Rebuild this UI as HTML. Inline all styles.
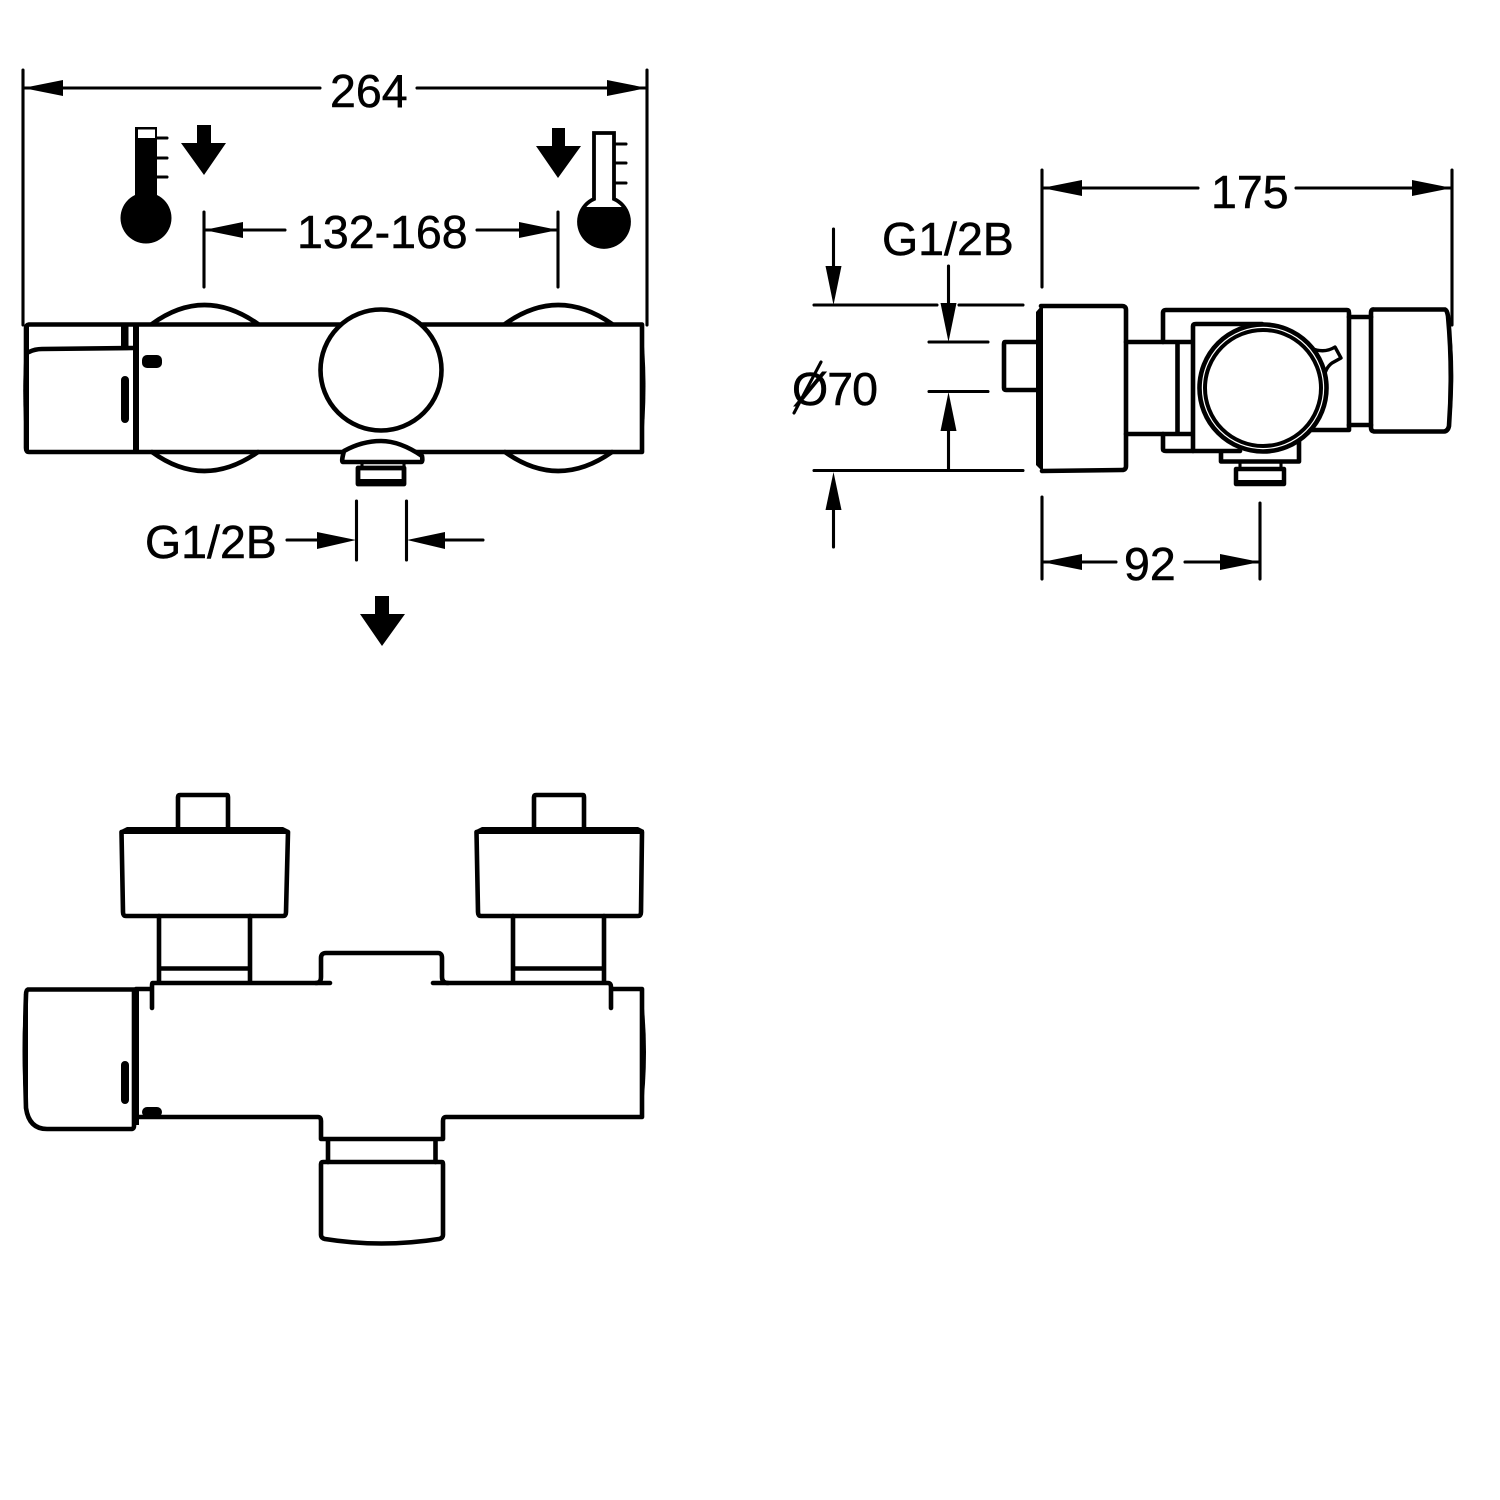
<!DOCTYPE html>
<html><head><meta charset="utf-8"><style>html,body{margin:0;padding:0;background:#fff}svg{display:block}</style></head>
<body>
<svg width="1500" height="1500" viewBox="0 0 1500 1500" xmlns="http://www.w3.org/2000/svg">
<rect width="1500" height="1500" fill="#fff"/>
<style>
text{font-family:"Liberation Sans",sans-serif;font-size:46.5px;fill:#000;stroke:#000;stroke-width:.5px}
.d{stroke:#000;stroke-width:3.1;fill:none;stroke-linecap:round}
.o{stroke:#000;stroke-width:4.6;fill:none;stroke-linejoin:round;stroke-linecap:round}
.w{stroke:#000;stroke-width:4.6;fill:#fff;stroke-linejoin:round;stroke-linecap:round}
</style>

<!-- top-left dims -->
<path class="d" d="M23 70V325M647 70V325M23 88H320M417 88H647M204 212V287M558 212V287M204 230H285M477 230H558"/>
<polygon points="23,88 63,80 63,96"/><polygon points="647,88 607,80 607,96"/>
<polygon points="204,230 243,222 243,238"/><polygon points="558,230 519,222 519,238"/>
<text x="330" y="107">264</text>
<text x="297" y="248">132-168</text>

<!-- thermometer left -->
<path d="M135 127H157V195A25.500 25.500 0 1 1 135 195V127Z" fill="#000"/>
<rect x="138" y="129.500" width="17" height="8.500" fill="#fff"/>
<path class="d" d="M157 138H167M157 158H167M157 177H167"/>
<polygon points="197,125 211,125 211,143 226,143 204,175 181,143 197,143"/>

<!-- thermometer right -->
<path d="M594 133H614V199A25 25 0 1 1 594 199Z" fill="#fff" stroke="#000" stroke-width="3.800"/>
<path d="M584 207H624A25.500 25.500 0 1 1 584 207Z" fill="#000"/>
<path class="d" d="M614 144H626M614 163H626M614 183H626"/>
<polygon points="552,128 565,128 565,146 581,146 558,178 536,146 552,146"/>

<!-- top-left body -->
<path class="o" d="M152 324Q204 286 258 324M505 324Q558 286 612 324M152 452Q204 490 258 452M505 452Q558 490 612 452"/>
<path class="o" d="M29 324.500H642V452H29Q26 452 26 448V328Q26 325 29 324.500Z"/>
<path d="M27 326Q20 385 26 450L29 450V326Z" fill="#000"/>
<path d="M642 325Q649 385 642 450L640 450V325Z" fill="#000"/>
<path class="o" d="M29 352Q35 349 42 349L133 348"/>
<path d="M133 324H139V452H133Z" fill="#000"/>
<rect x="121" y="325" width="7.500" height="24" fill="#000"/>
<rect x="121" y="376" width="8" height="47" rx="4" fill="#000"/>
<rect x="142" y="355" width="20" height="13" rx="5" fill="#000"/>
<circle cx="381" cy="370" r="60.500" class="w"/>
<path class="w" d="M343 462H421Q423 462 422 456Q400 441 381 441Q362 441 344 451Q341 462 343 462Z"/>
<path class="d" d="M362 463V470M404 463V470"/>
<path d="M358 468H404V484H358Z" fill="#fff" stroke="#000" stroke-width="4.800" stroke-linejoin="round"/>
<rect x="357" y="479" width="48" height="6.500" fill="#000"/>

<!-- G1/2B lower dim -->
<text x="145" y="558">G1/2B</text>
<path class="d" d="M287 540H320M445 540H483M356.500 501V560M406.500 501V560"/>
<polygon points="356,540 317,532 317,549"/><polygon points="407,540 445,532 445,549"/>
<polygon points="375,596 389,596 389,614 405,614 382,646 360,614 375,614"/>

<!-- right view dims -->
<path class="d" d="M1042 170V287M1452 170V325M1042 188H1198M1296 188H1452"/>
<polygon points="1042,188 1082,180 1082,196"/><polygon points="1452,188 1412,180 1412,196"/>
<text x="1211" y="208">175</text>
<text x="882" y="255">G1/2B</text>
<path class="d" d="M814 305H937M959 305H1023M929 342H988M929 391.500H988M814 470.500H1023M833.500 229V270M833.500 510V547M948.500 266V305M948.500 428V469"/>
<polygon points="833.500,305 825.500,266 841.500,266"/><polygon points="833.500,472 825.500,510 841.500,510"/>
<polygon points="948.500,342 940.500,303 956.500,303"/><polygon points="948.500,392 940.500,431 956.500,431"/>
<text x="792" y="405" textLength="86">Ø70</text>
<path class="d" d="M794 413L821 362"/>
<path class="d" d="M1042 497V579M1260 503V579M1042 562H1116M1185 562H1260"/>
<polygon points="1042,562 1082,554 1082,570"/><polygon points="1260,562 1220,554 1220,570"/>
<text x="1124" y="580">92</text>

<!-- right view drawing -->
<path class="o" d="M1038 342H1005Q1004 342 1004 344V388Q1004 390 1006 390H1038" stroke-width="5"/>
<path class="o" d="M1126 342H1192M1126 434H1192M1177.500 344V432"/>
<path class="o" d="M1163 342V313Q1163 310 1166 310H1347Q1349 310 1349 313V430H1312M1163 434V449Q1163 451 1166 451H1240"/>
<path class="o" d="M1193 451V326Q1193 324 1196 324H1262"/>
<path class="o" d="M1349 317H1371M1349 425H1371"/>
<path class="o" d="M1041 306L1122 306Q1126 306 1126 310V466Q1126 470 1122 470L1042 471"/>
<path d="M1036 312L1043 304V472L1036 465Z" fill="#000"/>
<path class="o" d="M1374 309.500H1445Q1447 310 1448 316Q1453 370 1449 426Q1448 431 1444 431.500H1374Q1371 431 1371 428V313Q1371 309 1374 309.500Z"/>
<path class="d" d="M1448 320Q1455 370 1449 425" stroke-width="4"/>
<path class="o" d="M1221 453V461.500H1299V441"/>
<path d="M1311 348Q1324 354 1335 347L1341 358L1332 363Q1325 368 1324 379" fill="#fff" stroke="#000" stroke-width="3.400" stroke-linejoin="round"/>
<circle cx="1263" cy="388" r="63.500" fill="#fff" stroke="#000" stroke-width="4.600"/>
<circle cx="1263" cy="388" r="58" fill="none" stroke="#000" stroke-width="4"/>
<path class="d" d="M1240 462V469M1281 462V469"/>
<path d="M1236 469H1284V484H1236Z" fill="#fff" stroke="#000" stroke-width="4.500" stroke-linejoin="round"/>
<rect x="1235" y="480" width="50" height="5.500" fill="#000"/>

<!-- bottom view -->
<path class="o" d="M178 829V797Q178 795 180 795H227Q228 795 228 797V829" stroke-width="5"/>
<path class="o" d="M534 829V797Q534 795 536 795H583Q584 795 584 797V829" stroke-width="5"/>
<path d="M127 827H283L289 830V834H121V830Z" fill="#000"/>
<path d="M482 827H638L644 830V834H476V830Z" fill="#000"/>
<path class="o" d="M121.500 832L123 912Q123 916 126 916H283Q286 916 286 912L288 832"/>
<path class="o" d="M476.500 832L478 912Q478 916 481 916H638Q641 916 641 912L642 832"/>
<path class="o" d="M159 916V982M250 916V982M160 968.500H249"/>
<path class="o" d="M513 916V982M604 916V982M514 968.500H604"/>
<path class="o" d="M330 983H152.500Q152 983 152 987V1008M136 989H150M433 983H608Q611 983 611 987V1008M612 989H642V1117H446Q443 1117 443 1121V1139H321V1121Q321 1117 318 1117H138"/>
<path class="o" d="M316 983Q321 983 321 977V958Q321 953 326 953H438Q442 953 442 958V977Q442 983 448 983"/>
<path d="M642 990Q650 1052 642 1115L640 1115V990Z" fill="#000"/>
<path class="o" d="M28 989.500H134V1126Q134 1129 131 1129H47Q29 1129 26 1108Q24 1050 26 995Q26 990 28 989.500Z"/>
<path d="M25 993Q20 1050 25 1110L28 1110V993Z" fill="#000"/>
<path d="M133 989H139V1125H133Z" fill="#000"/>
<rect x="121" y="1061" width="8" height="43" rx="4" fill="#000"/>
<rect x="142" y="1107" width="20" height="10" rx="5" fill="#000"/>
<path class="o" d="M328 1140V1162M435.500 1140V1162"/>
<path class="o" d="M323 1162H442Q443 1162 443 1164V1235Q443 1238 439 1239Q381 1248 325 1239Q321 1238 321 1235V1164Q321 1162 323 1162Z"/>
</svg>
</body></html>
